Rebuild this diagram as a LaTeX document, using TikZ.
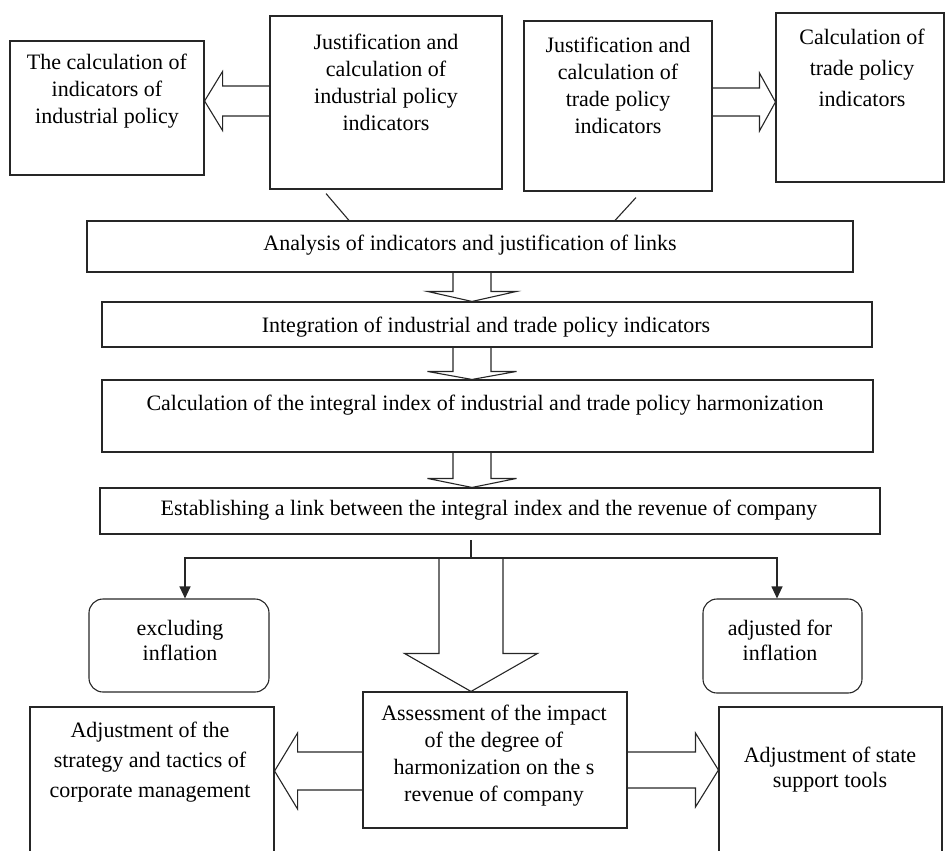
\documentclass[tikz,border=0pt]{standalone}
\usepackage{fontspec}
\setmainfont{Liberation Serif}
\usetikzlibrary{arrows.meta,calc}
\newcommand\vblk[5]{% source, tip, half shaft, half head, head length
  \draw[blk] let \p1=(#1), \p2=(#2) in
   (\x1-#3,\y1) -- (\x1-#3,\y2+#5) -- (\x1-#4,\y2+#5) -- (\x2,\y2) -- (\x1+#4,\y2+#5) -- (\x1+#3,\y2+#5) -- (\x1+#3,\y1);}
\newcommand\hblk[5]{% source, tip, half shaft, half head, signed head length
  \draw[blk] let \p1=(#1), \p2=(#2) in
   (\x1,\y1-#3) -- (\x2#5,\y1-#3) -- (\x2#5,\y1-#4) -- (\x2,\y2) -- (\x2#5,\y1+#4) -- (\x2#5,\y1+#3) -- (\x1,\y1+#3);}
\begin{document}
\begin{tikzpicture}[x=1pt,y=-1pt,
  box/.style={draw=black!85, line width=1.1pt, rectangle, inner sep=0pt},
  rbox/.style={box, rounded corners=14pt},
  txt/.style={align=center, inner sep=0pt, font=\fontsize{22}{27}\selectfont},
  blk/.style={draw=black!85, line width=1.1pt, line join=miter},
  link/.style={draw=black!85, line width=1.1pt},
  tipa/.style={-{Triangle[width=11pt,length=12pt]}}]
\useasboundingbox (0,0) rectangle (945,851);
\clip (0,0) rectangle (945,851);
% boxes
\node[box, minimum width=194, minimum height=134] (A) at (107,108) {};
\node[box, minimum width=232, minimum height=173] (B) at (386,102.5) {};
\node[box, minimum width=188, minimum height=170] (C) at (618,106) {};
\node[box, minimum width=168, minimum height=169] (D) at (860,97.5) {};
\node[box, minimum width=766, minimum height=51] (ana) at (470,246.5) {};
\node[box, minimum width=770, minimum height=45] (int) at (487,324.5) {};
\node[box, minimum width=771, minimum height=72] (calc) at (487.5,416) {};
\node[box, minimum width=780, minimum height=46] (est) at (490,511) {};
\node[rbox, minimum width=180, minimum height=93] (exc) at (179,645.5) {};
\node[rbox, minimum width=159, minimum height=94] (infl) at (782.5,646) {};
\node[box, minimum width=264, minimum height=136] (ass) at (495,760) {};
\node[box, minimum width=244, minimum height=193] (ladj) at (152,803.5) {};
\node[box, minimum width=223, minimum height=193] (radj) at (830.5,803.5) {};
% texts
\node[txt] (tA) at (107,91) {The calculation of\\indicators of\\industrial policy};
\node[txt] (tB) at (386,82) {Justification and\\calculation of\\industrial policy\\indicators};
\node[txt] (tC) at (618,85) {Justification and\\calculation of\\trade policy\\indicators};
\node[txt, font=\fontsize{22}{31}\selectfont] (tD) at (862,68) {Calculation of\\trade policy\\indicators};
\node[txt] (tana) at (470,245) {Analysis of indicators and justification of links};
\node[txt] (tint) at (486,327) {Integration of industrial and trade policy indicators};
\node[txt] (tcalc) at (485,405) {Calculation of the integral index of industrial and trade policy harmonization};
\node[txt] (test) at (489,510) {Establishing a link between the integral index and the revenue of company};
\node[txt, font=\fontsize{22}{25}\selectfont] (texc) at (180,640) {excluding\\inflation};
\node[txt, font=\fontsize{22}{25}\selectfont] (tinfl) at (780,640) {adjusted for\\inflation};
\node[txt] (tass) at (494,756) {Assessment of the impact\\of the degree of\\harmonization on the s\\revenue of company};
\node[txt, font=\fontsize{22}{30}\selectfont] (tladj) at (150,762) {Adjustment of the\\strategy and tactics of\\corporate management};
\node[txt, font=\fontsize{22}{25}\selectfont] (tradj) at (830,770) {Adjustment of state\\support tools};
% helper coordinates
\coordinate (colx) at (472,0);
\coordinate (colb) at (471,0);
\coordinate (tick) at (471,540);
\coordinate (split) at (471,558);
\coordinate (lc) at (185,558);
\coordinate (rc) at (777,558);
\coordinate (ya) at (0,101);
\coordinate (yb) at (0,102);
\coordinate (yc) at (0,771);
\coordinate (yd) at (0,770);
% top side block arrows
\hblk{B.west |- ya}{A.east |- ya}{15pt}{29.5pt}{+18pt}
\hblk{C.east |- yb}{D.west |- yb}{14pt}{29pt}{-16pt}
% thin links to analysis box
\draw[link] ([xshift=-60pt,yshift=-4pt]B.south) -- ([xshift=-121pt]ana.north);
\draw[link] ([xshift=18pt,yshift=-6pt]C.south) -- ([xshift=145pt]ana.north);
% vertical block arrows
\vblk{colx |- ana.south}{colx |- int.north}{19pt}{44.5pt}{10pt}
\vblk{colx |- int.south}{colx |- calc.north}{19pt}{44.5pt}{8pt}
\vblk{colx |- calc.south}{colx |- est.north}{19pt}{44.5pt}{9pt}
% split
\draw[link] (tick) -- (split);
\draw[link, tipa] (split) -- (lc) -- (lc |- exc.north);
\draw[link, tipa] (split) -- (rc) -- (rc |- infl.north);
\vblk{split}{colb |- ass.north}{32pt}{66.5pt}{38pt}
% bottom side block arrows
\hblk{ass.west |- yc}{ladj.east |- yc}{19pt}{38pt}{+23pt}
\hblk{ass.east |- yd}{radj.west |- yd}{18pt}{37pt}{-23pt}
\end{tikzpicture}
\end{document}
